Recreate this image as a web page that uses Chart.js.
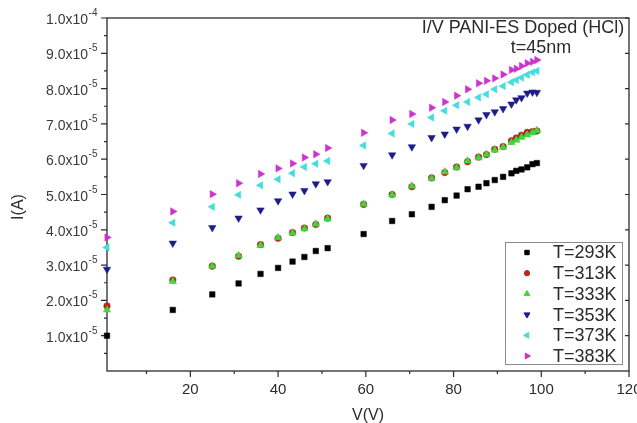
<!DOCTYPE html>
<html>
<head>
<meta charset="utf-8">
<title>I/V PANI-ES Doped (HCl)</title>
<script src="https://cdn.jsdelivr.net/npm/chart.js@4.4.1/dist/chart.umd.min.js"></script>
<style>
  html, body { margin: 0; padding: 0; background: #fff; }
  #wrap { width: 637px; height: 423px; }
</style>
</head>
<body>
<div id="wrap"><canvas id="ivChart" width="637" height="423"></canvas></div>
<script>
// Applied voltage (V)
const voltage = [1, 16, 25, 31, 36, 40, 43.3, 46, 48.6, 51.3, 59.5, 66, 70.5, 75, 78, 80.7, 83.2, 85.7, 87.5, 89.4, 91.3, 93.2, 94.3, 95.5, 96.8, 98, 99];

// Current in units of 1e-5 A, one list per temperature
const i293 = [1.00, 1.73, 2.17, 2.48, 2.75, 2.92, 3.10, 3.23, 3.40, 3.48, 3.88, 4.25, 4.44, 4.65, 4.84, 4.97, 5.15, 5.22, 5.32, 5.41, 5.50, 5.60, 5.67, 5.71, 5.77, 5.86, 5.89];
const i313 = [1.84, 2.58, 2.97, 3.25, 3.58, 3.76, 3.92, 4.05, 4.15, 4.33, 4.72, 5.00, 5.22, 5.47, 5.62, 5.78, 5.93, 6.06, 6.13, 6.28, 6.36, 6.52, 6.60, 6.68, 6.76, 6.78, 6.80];
const i333 = [1.73, 2.54, 2.97, 3.27, 3.56, 3.78, 3.91, 4.03, 4.16, 4.31, 4.73, 4.99, 5.24, 5.46, 5.64, 5.76, 5.95, 6.04, 6.14, 6.26, 6.34, 6.47, 6.54, 6.62, 6.69, 6.75, 6.81];
const i353 = [2.88, 3.62, 4.06, 4.33, 4.56, 4.82, 5.01, 5.11, 5.30, 5.36, 5.82, 6.12, 6.35, 6.61, 6.71, 6.85, 6.93, 7.11, 7.26, 7.34, 7.43, 7.56, 7.68, 7.74, 7.87, 7.90, 7.89];
const i373 = [3.50, 4.20, 4.65, 4.99, 5.26, 5.43, 5.60, 5.78, 5.87, 5.95, 6.39, 6.73, 7.00, 7.18, 7.37, 7.53, 7.62, 7.75, 7.84, 7.98, 8.07, 8.18, 8.24, 8.31, 8.39, 8.46, 8.50];
const i383 = [3.78, 4.52, 5.01, 5.32, 5.58, 5.74, 5.88, 6.05, 6.14, 6.32, 6.75, 7.11, 7.28, 7.46, 7.62, 7.80, 7.98, 8.15, 8.22, 8.29, 8.40, 8.53, 8.56, 8.64, 8.72, 8.76, 8.81];

const seriesNames = ['T=293K', 'T=313K', 'T=333K', 'T=353K', 'T=373K', 'T=383K'];

// Axis ticks
const xTickValues = [20, 40, 60, 80, 100, 120];
const xMinorValues = [10, 30, 50, 70, 90, 110];
const yTickValues = [1, 2, 3, 4, 5, 6, 7, 8, 9, 10];
const yTickLabels = [
    ['1.0x10', '-5'], ['2.0x10', '-5'], ['3.0x10', '-5'], ['4.0x10', '-5'], ['5.0x10', '-5'],
    ['6.0x10', '-5'], ['7.0x10', '-5'], ['8.0x10', '-5'], ['9.0x10', '-5'], ['1.0x10', '-4']
];
const yMinorValues = [0.5, 1.5, 2.5, 3.5, 4.5, 5.5, 6.5, 7.5, 8.5, 9.5];

const FONT = "'Liberation Sans', Arial, sans-serif";
const INK = '#2b2b2b';

function toPoints(values) {
    return voltage.map((v, i) => ({ x: v, y: values[i] }));
}

const markerStyles = [
    { color: '#000000', pointStyle: 'rect', radius: 3.9, rotation: 0 },
    { color: '#b8261c', pointStyle: 'circle', radius: 3.3, rotation: 0 },
    { color: '#3fd63f', pointStyle: 'triangle', radius: 4.3, rotation: 0 },
    { color: '#1c1c8a', pointStyle: 'triangle', radius: 4.3, rotation: 180 },
    { color: '#45dcdc', pointStyle: 'triangle', radius: 4.3, rotation: 270 },
    { color: '#cc33cc', pointStyle: 'triangle', radius: 4.3, rotation: 90 }
];

const seriesValues = [i293, i313, i333, i353, i373, i383];

const datasets = seriesValues.map((vals, k) => ({
    label: seriesNames[k],
    data: toPoints(vals),
    showLine: false,
    pointStyle: markerStyles[k].pointStyle,
    pointRotation: markerStyles[k].rotation,
    pointRadius: markerStyles[k].radius,
    pointHoverRadius: markerStyles[k].radius,
    pointBackgroundColor: markerStyles[k].color,
    pointBorderColor: markerStyles[k].color,
    pointBorderWidth: 0.5,
    order: seriesValues.length - k,
    clip: false
}));

// Frame, ticks, tick labels and axis titles
const axesPlugin = {
    id: 'axesPlugin',
    beforeDatasetsDraw(chart) {
        const { ctx, chartArea: a, scales } = chart;
        const xs = scales.x, ys = scales.y;
        ctx.save();
        ctx.strokeStyle = INK;
        ctx.lineWidth = 1.3;
        ctx.strokeRect(a.left, a.top, a.right - a.left, a.bottom - a.top);

        ctx.lineWidth = 1.2;
        ctx.beginPath();
        xTickValues.forEach(v => {
            const px = xs.getPixelForValue(v);
            ctx.moveTo(px, a.bottom); ctx.lineTo(px, a.bottom + 6);
        });
        xMinorValues.forEach(v => {
            const px = xs.getPixelForValue(v);
            ctx.moveTo(px, a.bottom); ctx.lineTo(px, a.bottom + 3);
        });
        yTickValues.forEach(v => {
            const py = ys.getPixelForValue(v);
            ctx.moveTo(a.left, py); ctx.lineTo(a.left - 6, py);
            ctx.moveTo(a.right, py); ctx.lineTo(a.right - 4, py);
        });
        yMinorValues.forEach(v => {
            const py = ys.getPixelForValue(v);
            ctx.moveTo(a.left, py); ctx.lineTo(a.left - 3, py);
        });
        ctx.stroke();

        // x tick labels
        ctx.fillStyle = INK;
        ctx.font = '15px ' + FONT;
        ctx.textAlign = 'center';
        ctx.textBaseline = 'middle';
        xTickValues.forEach(v => {
            ctx.fillText(String(v), xs.getPixelForValue(v), a.bottom + 19);
        });

        // y tick labels with superscript exponent
        ctx.fillStyle = '#3a3a3a';
        ctx.textAlign = 'left';
        ctx.textBaseline = 'alphabetic';
        yTickValues.forEach((v, i) => {
            const py = ys.getPixelForValue(v);
            const [base, sup] = yTickLabels[i];
            ctx.font = '14px ' + FONT;
            const wb = ctx.measureText(base).width;
            ctx.font = '10px ' + FONT;
            const ws = ctx.measureText(sup).width;
            const x0 = a.left - 10 - ws - wb;
            ctx.font = '14px ' + FONT;
            ctx.fillText(base, x0, py + 6);
            ctx.font = '10px ' + FONT;
            ctx.fillText(sup, x0 + wb + 0.5, py - 2);
        });

        // axis titles
        ctx.fillStyle = INK;
        ctx.font = '16px ' + FONT;
        ctx.textAlign = 'center';
        ctx.textBaseline = 'middle';
        ctx.fillText('V(V)', 368, 416);
        ctx.save();
        ctx.translate(19, 207);
        ctx.rotate(-Math.PI / 2);
        ctx.fillText('I(A)', 0, 0);
        ctx.restore();

        // sample description
        ctx.font = '18px ' + FONT;
        ctx.fillText('I/V PANI-ES Doped (HCl)', 523, 28);
        ctx.fillText('t=45nm', 541, 48);
        ctx.restore();
    },
    afterDatasetsDraw(chart) {
        const { ctx } = chart;
        const box = { x: 505, y: 242, w: 117, h: 122 };
        ctx.save();
        ctx.fillStyle = '#ffffff';
        ctx.fillRect(box.x, box.y, box.w, box.h);
        ctx.strokeStyle = '#8a8a8a';
        ctx.lineWidth = 1;
        ctx.strokeRect(box.x + 0.5, box.y + 0.5, box.w, box.h);

        chart.data.datasets.forEach((ds, k) => {
            const ry = box.y + 10.5 + k * 20.7;
            ctx.fillStyle = ds.pointBackgroundColor;
            ctx.strokeStyle = ds.pointBorderColor;
            Chart.helpers.drawPoint(ctx, {
                pointStyle: ds.pointStyle,
                rotation: ds.pointRotation,
                radius: ds.pointRadius * 0.8,
                borderWidth: 0.5
            }, box.x + 22, ry);
            ctx.fillStyle = INK;
            ctx.font = '18px ' + FONT;
            ctx.textAlign = 'left';
            ctx.textBaseline = 'middle';
            ctx.fillText(ds.label, box.x + 48, ry + 1);
        });
        ctx.restore();
    }
};

new Chart(document.getElementById('ivChart'), {
    type: 'scatter',
    data: { datasets: datasets },
    options: {
        responsive: false,
        devicePixelRatio: 1,
        animation: false,
        layout: { padding: { left: 0, top: 18, right: 8, bottom: 0 } },
        plugins: {
            legend: { display: false },
            tooltip: { enabled: false },
            title: { display: false }
        },
        scales: {
            x: {
                type: 'linear',
                min: 1,
                max: 120,
                grid: { display: false },
                border: { display: false },
                ticks: { display: false },
                afterFit(scale) { scale.height = 52; }
            },
            y: {
                type: 'linear',
                min: 0,
                max: 10,
                grid: { display: false },
                border: { display: false },
                ticks: { display: false },
                afterFit(scale) { scale.width = 107; }
            }
        }
    },
    plugins: [axesPlugin]
});
</script>
</body>
</html>
